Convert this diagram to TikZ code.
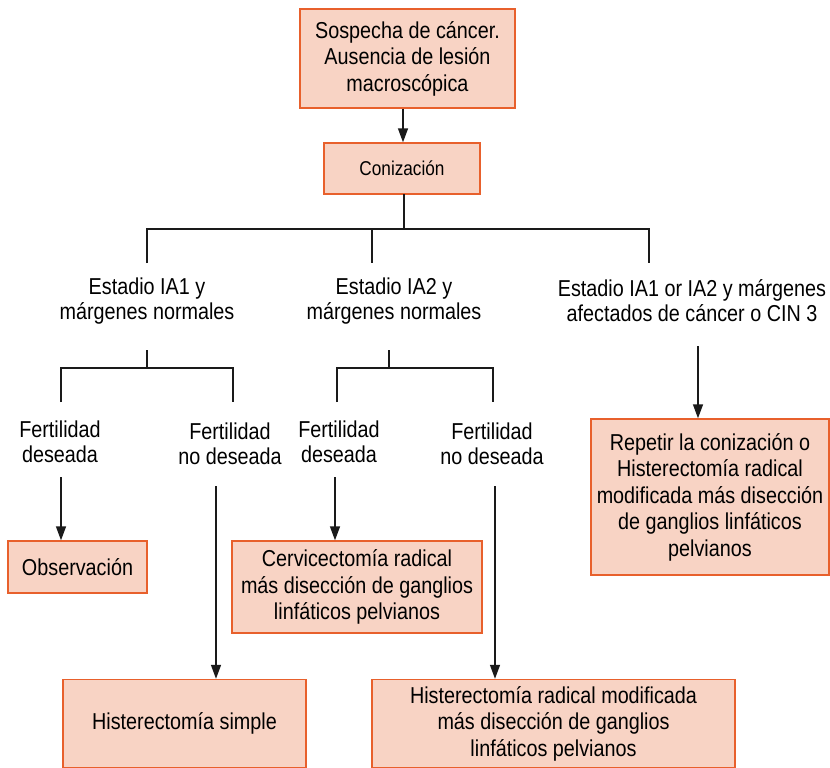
\documentclass[tikz,border=0pt]{standalone}
\usepackage{fontspec}
\setmainfont{Liberation Sans}[FakeStretch=0.86]
\usetikzlibrary{arrows.meta}
\definecolor{boxfill}{HTML}{F8D3C4}
\definecolor{boxline}{HTML}{E8602C}
\definecolor{linecol}{HTML}{1A1A1A}
\begin{document}
\begin{tikzpicture}[x=1pt,y=-1pt,
  box/.style={draw=boxline, fill=boxfill, line width=1.4pt, align=center, inner sep=0pt,
     font=\fontsize{23}{26.5}\selectfont},
  lbl/.style={align=center, inner sep=0pt, font=\fontsize{23}{25}\selectfont},
  conn/.style={draw=linecol, line width=1.4pt},
  arr/.style={conn, -{Triangle[length=14pt,width=10pt]}}]
\useasboundingbox (0,0) rectangle (830,768);
% boxes
\node[box, minimum width=215pt, minimum height=99pt] (top) at (407.5,58.5)
  {Sospecha de cáncer.\\Ausencia de lesión\\macroscópica};
\node[box, minimum width=156pt, minimum height=51pt, font=\fontsize{20}{24}\selectfont] (coniz) at (402,168.5) {Conización};
\node[box, minimum width=139pt, minimum height=52pt] (obs) at (77.5,567) {Observación};
\node[box, minimum width=250pt, minimum height=92pt] (cerv) at (357,587)
  {Cervicectomía radical\\más disección de ganglios\\linfáticos pelvianos};
\node[box, minimum width=243pt, minimum height=88pt] (hsim) at (184.5,723.5) {Histerectomía simple};
\node[box, minimum width=363pt, minimum height=88pt] (hrad) at (553.5,723.5)
  {Histerectomía radical modificada\\más disección de ganglios\\linfáticos pelvianos};
\node[box, minimum width=238pt, minimum height=156pt] (rep) at (710,497)
  {Repetir la conización o\\Histerectomía radical\\modificada más disección\\de ganglios linfáticos\\pelvianos};
% labels
\node[lbl] (e1) at (147,301) {Estadio IA1 y\\márgenes normales};
\node[lbl] (e2) at (394,301) {Estadio IA2 y\\márgenes normales};
\node[lbl] (e3) at (692,301) {Estadio IA1 or IA2 y márgenes\\afectados de cáncer o CIN 3};
\node[lbl] (f1) at (60,442) {Fertilidad\\deseada};
\node[lbl] (f2) at (230,444) {Fertilidad\\no deseada};
\node[lbl] (f3) at (339,442) {Fertilidad\\deseada};
\node[lbl] (f4) at (492,444) {Fertilidad\\no deseada};
% junction coordinates
\coordinate (c0) at (404,194);
\coordinate (j1) at (404,229);
\coordinate (j1a) at (147,229);
\coordinate (j1b) at (372,229);
\coordinate (j1c) at (649,229);
\coordinate (d1a) at (147,263);
\coordinate (d1b) at (372,263);
\coordinate (d1c) at (649,263);
\coordinate (s1) at (147,350);
\coordinate (s1m) at (147,368);
\coordinate (s1l) at (61,368);
\coordinate (s1r) at (233,368);
\coordinate (s1ld) at (61,402);
\coordinate (s1rd) at (233,402);
\coordinate (s2) at (389,350);
\coordinate (s2m) at (389,368);
\coordinate (s2l) at (337,368);
\coordinate (s2r) at (493,368);
\coordinate (s2ld) at (337,402);
\coordinate (s2rd) at (493,402);
\coordinate (a1) at (61,477);
\coordinate (a2) at (216,486);
\coordinate (a3) at (335,477);
\coordinate (a4) at (495,486);
\coordinate (a5) at (698,346);
% connectors
\draw[arr] (top.south -| 403,0) -- (coniz.north -| 403,0);
\draw[conn] (c0) -- (j1);
\draw[conn] (d1a) -- (j1a) -- (j1c) -- (d1c);
\draw[conn] (j1b) -- (d1b);
\draw[conn] (s1) -- (s1m);
\draw[conn] (s1ld) -- (s1l) -- (s1r) -- (s1rd);
\draw[conn] (s2) -- (s2m);
\draw[conn] (s2ld) -- (s2l) -- (s2r) -- (s2rd);
\draw[arr] (a1) -- (obs.north -| a1);
\draw[arr] (a2) -- (hsim.north -| a2);
\draw[arr] (a3) -- (cerv.north -| a3);
\draw[arr] (a4) -- (hrad.north -| a4);
\draw[arr] (a5) -- (rep.north -| a5);
\end{tikzpicture}
\end{document}
